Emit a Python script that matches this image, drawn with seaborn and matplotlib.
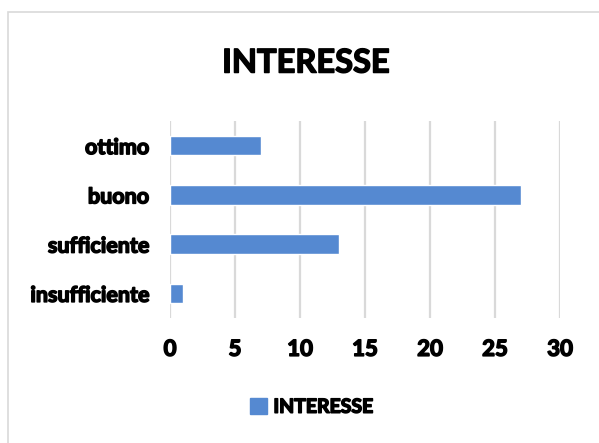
import matplotlib
matplotlib.use("Agg")
import matplotlib.pyplot as plt
import matplotlib.patches as mpatches
import matplotlib.patheffects as pe
import seaborn as sns
import pandas as pd

categories = ["ottimo", "buono", "sufficiente", "insufficiente"]
values = [7, 27, 13, 1]
series_name = "INTERESSE"
xticks = [0, 5, 10, 15, 20, 25, 30]

bar_color = "#5589D1"
grid_color = "#D9D9D9"

sns.set_style("white")
plt.rcParams["font.family"] = ["Lato", "DejaVu Sans"]
plt.rcParams["text.color"] = "black"
plt.rcParams["xtick.color"] = "black"
plt.rcParams["ytick.color"] = "black"

thick = [pe.withStroke(linewidth=1.1, foreground="black")]

frame = pd.DataFrame({"categoria": categories, "valore": values})

fig = plt.figure(figsize=(5.99, 4.43), dpi=100)
ax = fig.add_axes([170 / 599, 1 - 318 / 443, 390 / 599, 197 / 443])

sns.barplot(data=frame, x="valore", y="categoria", orient="h",
            color=bar_color, width=0.4, saturation=1, ax=ax, zorder=3)

ax.set_xlim(0, 30)
ax.set_xticks(xticks)
ax.xaxis.grid(True, color=grid_color, linewidth=1.6, zorder=0)
ax.set_axisbelow(True)
for s in ax.spines.values():
    s.set_visible(False)
ax.tick_params(axis="both", length=0)
ax.tick_params(axis="y", pad=15, labelsize=15.5)
ax.tick_params(axis="x", pad=15, labelsize=16)
for lab in ax.get_xticklabels() + ax.get_yticklabels():
    lab.set_fontweight("bold")
    lab.set_path_effects(thick)
ax.set_xlabel("")
ax.set_ylabel("")

fig.text(306 / 599, 1 - 63 / 443, "INTERESSE", ha="center", va="center",
         fontsize=23.5, fontweight="bold", path_effects=thick)

handle = mpatches.Patch(color=bar_color, label=series_name)
leg = fig.legend(handles=[handle], loc="center", bbox_to_anchor=(312 / 599, 1 - 407 / 443),
                 frameon=False, handlelength=0.85, handleheight=0.85, handletextpad=0.35,
                 prop={"size": 14, "weight": "bold"})
for t in leg.get_texts():
    t.set_path_effects(thick)

# chart border (only top and left edges fall inside the picture)
fig.patches.append(mpatches.Rectangle((8 / 599, -0.1), 1.2, 1.1 - 12 / 443,
                                      transform=fig.transFigure, fill=False,
                                      edgecolor="#D9D9D9", linewidth=1.2))

fig.savefig("out.png", dpi=100)
